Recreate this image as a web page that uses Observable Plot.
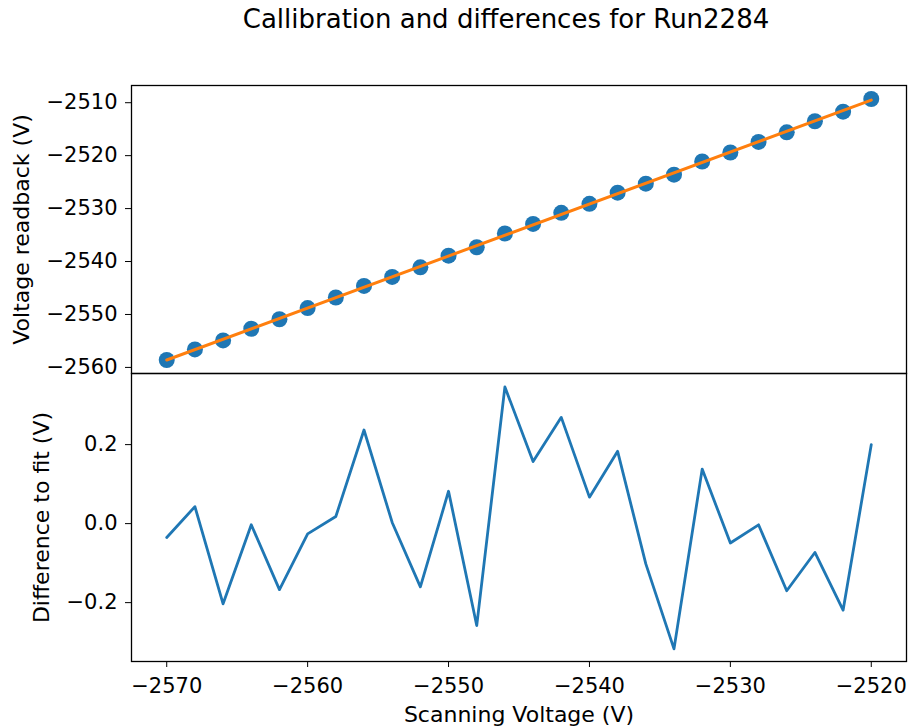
<!DOCTYPE html>
<html>
<head>
<meta charset="utf-8">
<script src="https://cdn.jsdelivr.net/npm/d3@7"></script>
<script src="https://cdn.jsdelivr.net/npm/@observablehq/plot@0.6"></script>
<style>
  html, body { margin: 0; padding: 0; background: #fff; }
  #chart { position: relative; width: 908px; height: 728px; font-family: "DejaVu Sans", sans-serif; color: #000; }
  #title { position: absolute; left: 206px; width: 600px; top: 6px; text-align: center; font-size: 26px; line-height: 26px; white-space: nowrap; }
  .panel { position: absolute; left: 0; }
  .panel svg { background: transparent !important; overflow: visible; }
</style>
</head>
<body>
<div id="chart">
  <div id="title">Callibration and differences for Run2284</div>
  <div id="upper" class="panel" style="top:0px"></div>
  <div id="lower" class="panel" style="top:371px"></div>
</div>
<script>
// Scan settings (V)
const scanVoltage = [
  -2570, -2568, -2566, -2564, -2562, -2560, -2558, -2556, -2554, -2552,
  -2550, -2548, -2546, -2544, -2542, -2540, -2538, -2536, -2534, -2532,
  -2530, -2528, -2526, -2524, -2522, -2520
];

// Measured voltage readback (V)
const readback = [
  -2558.6, -2556.6, -2554.9, -2552.7, -2550.9, -2548.8, -2546.8, -2544.6, -2542.9, -2541.1,
  -2538.9, -2537.3, -2534.7, -2532.9, -2530.8, -2529.1, -2527.0, -2525.3, -2523.6, -2521.1,
  -2519.4, -2517.4, -2515.6, -2513.5, -2511.7, -2509.3
];

// Residuals: readback minus linear fit (V)
const difference = [
  -0.035, 0.043, -0.203, -0.003, -0.167, -0.026, 0.018, 0.237, 0.003, -0.160,
  0.082, -0.258, 0.346, 0.157, 0.269, 0.067, 0.183, -0.102, -0.317, 0.138,
  -0.049, -0.003, -0.170, -0.073, -0.219, 0.200
];

// Linear fit, evaluated at the ends of the scan
const fitVoltage = [-2570, -2520];
const fitReadback = [-2558.6, -2509.5];

// Tick values
const scanTicks = [-2570, -2560, -2550, -2540, -2530, -2520];
const readbackTicks = [-2560, -2550, -2540, -2530, -2520, -2510];
const differenceTicks = [-0.2, 0.0, 0.2];

const points = scanVoltage.map((v, i) => ({v, r: readback[i], d: difference[i]}));
const fit = fitVoltage.map((v, i) => ({v, r: fitReadback[i]}));

const BLUE = "#1f77b4", ORANGE = "#ff7f0e";
const xDomain = [-2572.5, -2517.5];
const style = {
  background: "transparent",
  fontFamily: "DejaVu Sans, sans-serif",
  fontSize: "21px",
  color: "#000",
  overflow: "visible"
};
const labelFont = {fontSize: 22};

const upper = Plot.plot({
  width: 908,
  height: 375,
  marginTop: 85,
  marginBottom: 2,
  marginLeft: 131,
  marginRight: 2,
  style,
  x: {domain: xDomain, axis: null},
  y: {domain: [-2561.15, -2506.75]},
  marks: [
    Plot.axisY({
      ticks: readbackTicks,
      tickFormat: d3.format("d"),
      tickSize: 6,
      tickPadding: 8,
      label: null
    }),
    Plot.axisY({
      ticks: [],
      label: "Voltage readback (V)",
      labelAnchor: "center",
      labelArrow: "none",
      labelOffset: 118,
      ...labelFont
    }),
    Plot.dot(points, {x: "v", y: "r", r: 8, fill: BLUE}),
    Plot.line(fit, {x: "v", y: "r", stroke: ORANGE, strokeWidth: 3}),
    Plot.frame({stroke: "#000", strokeWidth: 1.3})
  ]
});

const lower = Plot.plot({
  width: 908,
  height: 357,
  marginTop: 2,
  marginBottom: 67,
  marginLeft: 131,
  marginRight: 2,
  style,
  x: {domain: xDomain},
  y: {domain: [-0.349, 0.380]},
  marks: [
    Plot.axisX({
      ticks: scanTicks,
      tickFormat: d3.format("d"),
      tickSize: 6,
      tickPadding: 11,
      label: null
    }),
    Plot.axisX({
      ticks: [],
      label: "Scanning Voltage (V)",
      labelAnchor: "center",
      labelArrow: "none",
      labelOffset: 60,
      ...labelFont
    }),
    Plot.axisY({
      ticks: differenceTicks,
      tickFormat: d3.format(".1f"),
      tickSize: 6,
      tickPadding: 8,
      label: null
    }),
    Plot.axisY({
      ticks: [],
      label: "Difference to fit (V)",
      labelAnchor: "center",
      labelArrow: "none",
      labelOffset: 98,
      ...labelFont
    }),
    Plot.line(points, {x: "v", y: "d", stroke: BLUE, strokeWidth: 2.8}),
    Plot.frame({stroke: "#000", strokeWidth: 1.3})
  ]
});

document.getElementById("upper").appendChild(upper);
document.getElementById("lower").appendChild(lower);
</script>
</body>
</html>
